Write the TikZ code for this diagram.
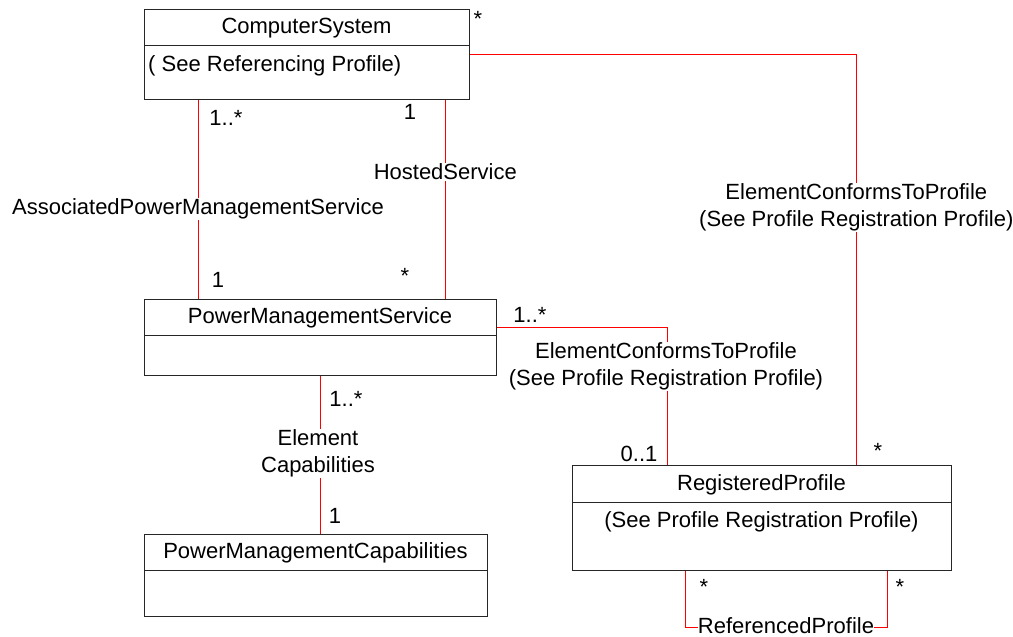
\documentclass[tikz,border=0pt]{standalone}
\usepackage{fontspec}
\setmainfont{Liberation Sans}
\begin{document}
\begin{tikzpicture}[x=1pt,y=-1pt,
  font=\fontsize{22}{26.5}\selectfont,
  box/.style={draw=black!85, line width=1pt, rectangle, inner sep=0pt, anchor=north west},
  divider/.style={draw=black!85, line width=1pt},
  assoc/.style={draw=red, line width=1pt},
  lbl/.style={fill=white, inner sep=1pt, align=center},
  mult/.style={inner sep=0pt},
  txt/.style={inner sep=0pt}]
\useasboundingbox (0,0) rectangle (1013,637);

% class boxes
\node[box, minimum width=325pt, minimum height=90pt] (cs) at (144,9) {};
\node[box, minimum width=352pt, minimum height=76pt] (pms) at (144,298.5) {};
\node[box, minimum width=343pt, minimum height=82pt] (pmc) at (144,533.5) {};
\node[box, minimum width=379pt, minimum height=105pt] (rp) at (572,465) {};

% dividers
\coordinate (d1) at (0,45);
\coordinate (d2) at (0,335);
\coordinate (d3) at (0,570.5);
\coordinate (d4) at (0,502);
\draw[divider] (cs.west |- d1) -- (cs.east |- d1);
\draw[divider] (pms.west |- d2) -- (pms.east |- d2);
\draw[divider] (pmc.west |- d3) -- (pmc.east |- d3);
\draw[divider] (rp.west |- d4) -- (rp.east |- d4);

% class texts
\node[txt] (cst) at (306.5,28) {ComputerSystem};
\node[txt, anchor=west] (csa) at (148,66) {( See Referencing Profile)};
\node[txt] (pmst) at (320,318) {PowerManagementService};
\node[txt] (pmct) at (315.5,553) {PowerManagementCapabilities};
\node[txt] (rpt) at (761.5,485) {RegisteredProfile};
\node[txt] (rpa) at (761.5,522) {(See Profile Registration Profile)};

% connector guide coordinates
\coordinate (x198) at (198.5,0);
\coordinate (x445) at (445.5,0);
\coordinate (x320) at (320.5,0);
\coordinate (x856) at (856.5,0);
\coordinate (x667) at (667.5,0);
\coordinate (x686) at (685.5,0);
\coordinate (x887) at (887.5,0);
\coordinate (y54) at (0,54.5);
\coordinate (y327) at (0,327.5);
\coordinate (y628) at (0,627.5);

% connectors
\draw[assoc] (cs.south -| x198) -- (pms.north -| x198);
\draw[assoc] (cs.south -| x445) -- (pms.north -| x445);
\draw[assoc] (pms.south -| x320) -- (pmc.north -| x320);
\draw[assoc] (cs.east |- y54) -| (rp.north -| x856);
\draw[assoc] (pms.east |- y327) -| (rp.north -| x667);
\draw[assoc] (rp.south -| x686) -- (x686 |- y628) -- (x887 |- y628) -- (rp.south -| x887);

% association labels
\node[lbl] (l1) at (198,209) {AssociatedPowerManagementService};
\node[lbl] (l2) at (445.3,172) {HostedService};
\node[lbl] (l3) at (856.3,207.5) {ElementConformsToProfile\\(See Profile Registration Profile)};
\node[lbl] (l4) at (666,366.5) {ElementConformsToProfile\\(See Profile Registration Profile)};
\node[lbl] (l5) at (318,453.5) {Element\\Capabilities};
\node[lbl, inner sep=0pt] (l6) at (786,625.5) {ReferencedProfile};

% multiplicities
\node[mult] (m1) at (478,19) {*};
\node[mult] (m2) at (226,118) {1..*};
\node[mult] (m3) at (410,112) {1};
\node[mult] (m4) at (218,280) {1};
\node[mult] (m5) at (405,276) {*};
\node[mult] (m6) at (530,315) {1..*};
\node[mult] (m7) at (639,453.5) {0..1};
\node[mult] (m8) at (878,451) {*};
\node[mult] (m9) at (346,399) {1..*};
\node[mult] (m10) at (335,516) {1};
\node[mult] (m11) at (704,587) {*};
\node[mult] (m12) at (900,587) {*};
\end{tikzpicture}
\end{document}
